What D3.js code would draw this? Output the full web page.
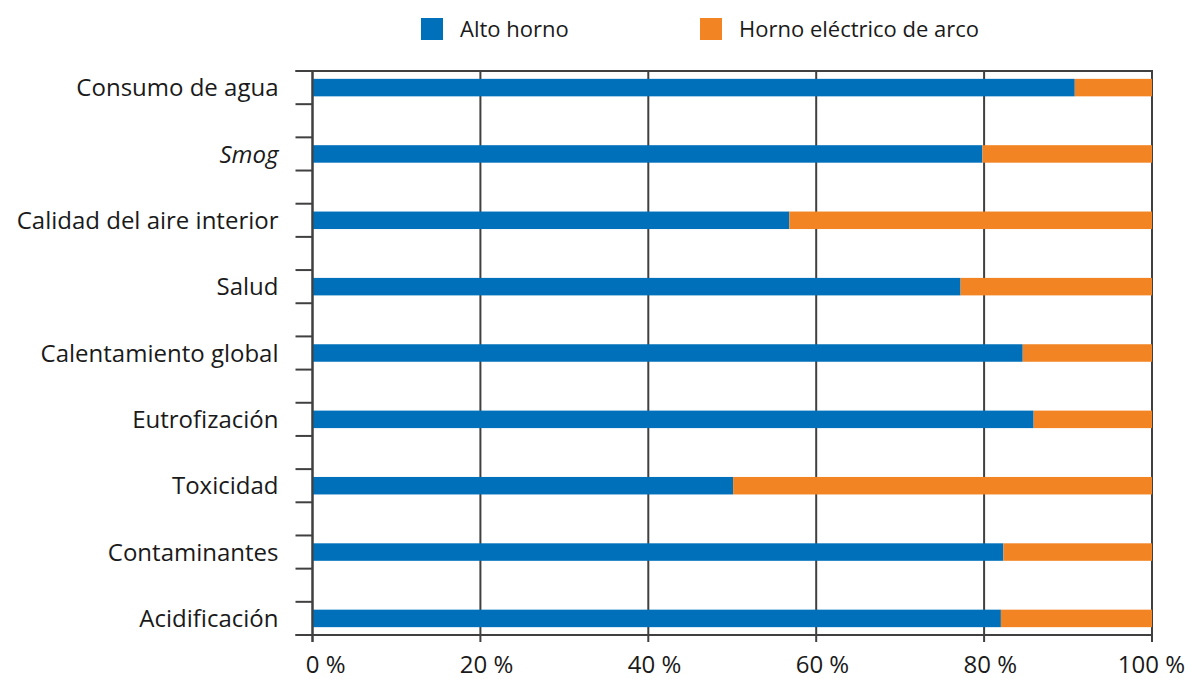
<!DOCTYPE html>
<html>
<head>
<meta charset="utf-8">
<script src="https://cdn.jsdelivr.net/npm/d3@7"></script>
<style>
  html, body { margin: 0; padding: 0; background: #fff; }
  svg text { font-family: "Open Sans", "Noto Sans", sans-serif; fill: #1a1a1a; }
</style>
</head>
<body>
<svg id="chart" width="1185" height="679"></svg>
<script>
// Impact categories, top to bottom
const categories = [
  "Consumo de agua",
  "Smog",
  "Calidad del aire interior",
  "Salud",
  "Calentamiento global",
  "Eutrofización",
  "Toxicidad",
  "Contaminantes",
  "Acidificación"
];
// Share of each impact (%) attributable to blast furnace route
const altoHorno = [90.8, 79.8, 56.8, 77.2, 84.6, 85.9, 50.1, 82.3, 82.0];
// Share attributable to electric arc furnace route
const hornoElectrico = altoHorno.map(v => 100 - v);
const seriesNames = ["Alto horno", "Horno eléctrico de arco"];
const seriesColors = ["#0070ba", "#f28423"];
const xTicks = [0, 20, 40, 60, 80, 100];
const italicCats = ["Smog"];

const svg = d3.select("#chart");
const margin = { top: 71, right: 33, bottom: 44, left: 312.5 };
const W = 1185, H = 679;
const x0 = margin.left, x1 = W - margin.right;
const y0 = margin.top, y1 = H - margin.bottom;

const x = d3.scaleLinear().domain([0, 100]).range([x0, x1]);
const y = d3.scalePoint().domain(categories).range([y0, y1]).padding(0.25);
const step = y.step();
const barH = 17.5;
const axisColor = "#404040";

// Vertical grid lines (also serve as the bottom axis ticks)
svg.append("g")
  .selectAll("line")
  .data(xTicks)
  .join("line")
  .attr("x1", d => x(d)).attr("x2", d => x(d))
  .attr("y1", y0).attr("y2", y1 + 7)
  .attr("stroke", axisColor).attr("stroke-width", 2);

// Top border and bottom axis line
svg.append("line")
  .attr("x1", x0 - 17).attr("x2", x1 + 1)
  .attr("y1", y0).attr("y2", y0)
  .attr("stroke", axisColor).attr("stroke-width", 2);
svg.append("line")
  .attr("x1", x0 - 17).attr("x2", x1 + 1)
  .attr("y1", y1).attr("y2", y1)
  .attr("stroke", axisColor).attr("stroke-width", 2);

// Left axis ticks bracketing each category
const yTickPos = [];
categories.forEach(c => { yTickPos.push(y(c) - step / 4, y(c) + step / 4); });
svg.append("g")
  .selectAll("line")
  .data(yTickPos)
  .join("line")
  .attr("x1", x0 - 17).attr("x2", x0)
  .attr("y1", d => d).attr("y2", d => d)
  .attr("stroke", axisColor).attr("stroke-width", 2);

// Stacked bars
const rows = categories.map((c, i) => ({ cat: c, a: altoHorno[i], b: hornoElectrico[i] }));
const stack = d3.stack().keys(["a", "b"])(rows);
svg.append("g")
  .selectAll("g")
  .data(stack)
  .join("g")
  .attr("fill", (d, i) => seriesColors[i])
  .selectAll("rect")
  .data(d => d)
  .join("rect")
  .attr("x", d => x(d[0]))
  .attr("width", d => x(d[1]) - x(d[0]))
  .attr("y", d => y(d.data.cat) - barH / 2)
  .attr("height", barH);

// Left axis line drawn over the bars
svg.append("line")
  .attr("x1", x0).attr("x2", x0)
  .attr("y1", y0).attr("y2", y1 + 7)
  .attr("stroke", axisColor).attr("stroke-width", 2);

// Category labels
svg.append("g")
  .selectAll("text")
  .data(categories)
  .join("text")
  .attr("x", x0 - 34)
  .attr("y", d => y(d))
  .attr("dy", "0.36em")
  .attr("text-anchor", "end")
  .attr("font-size", 24)
  .attr("font-style", d => italicCats.includes(d) ? "italic" : "normal")
  .text(d => d);

// X tick labels, right-aligned a little past each tick
svg.append("g")
  .selectAll("text")
  .data(xTicks)
  .join("text")
  .attr("x", d => x(d) + 33)
  .attr("y", y1 + 38)
  .attr("text-anchor", "end")
  .attr("font-size", 24)
  .text(d => d + " %");

// Legend
const legendX = [421, 700];
const lg = svg.append("g")
  .selectAll("g")
  .data(seriesNames)
  .join("g")
  .attr("transform", (d, i) => `translate(${legendX[i]},18)`);
lg.append("rect").attr("width", 22).attr("height", 22).attr("fill", (d, i) => seriesColors[i]);
lg.append("text")
  .attr("x", 39).attr("y", 11).attr("dy", "0.36em")
  .attr("font-size", 22)
  .text(d => d);
</script>
</body>
</html>
